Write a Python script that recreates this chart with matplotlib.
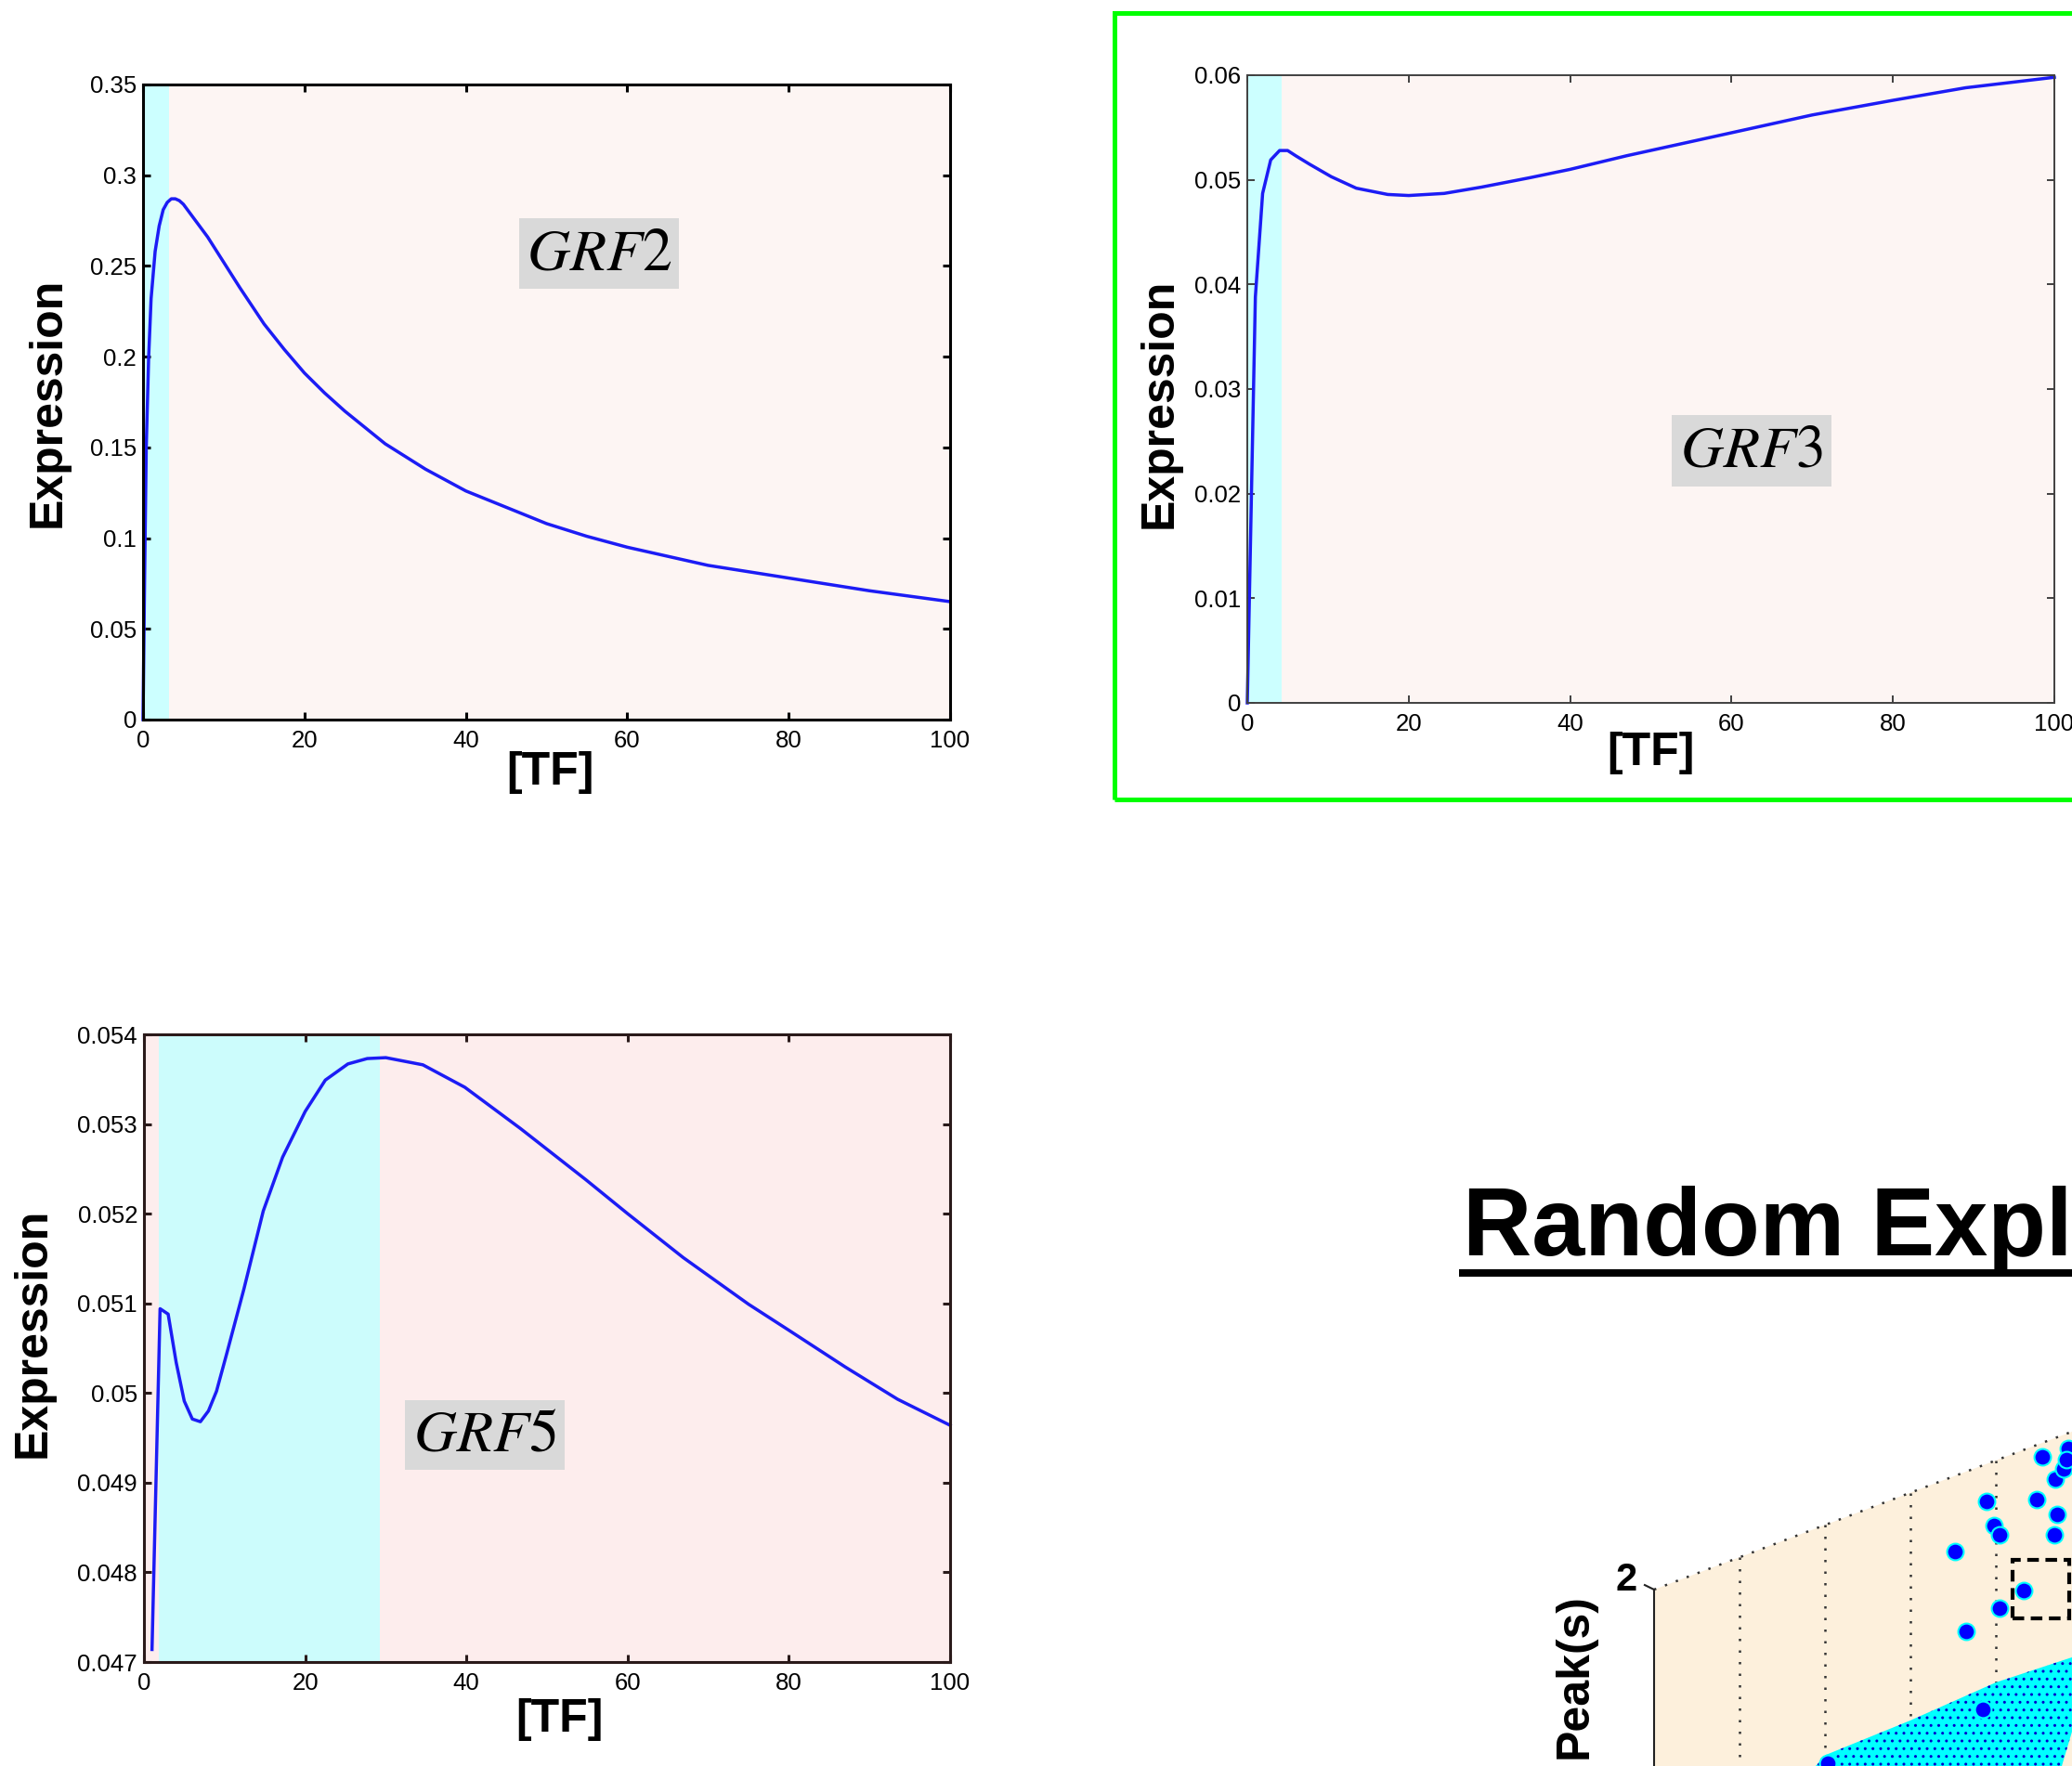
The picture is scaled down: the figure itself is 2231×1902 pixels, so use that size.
import numpy as np
import matplotlib
matplotlib.use("Agg")
import matplotlib.pyplot as plt
import matplotlib.transforms as mtransforms
from matplotlib.patches import Rectangle, Polygon
from matplotlib.lines import Line2D
from matplotlib.ticker import FuncFormatter

plt.rcParams['font.family'] = ['Liberation Sans', 'DejaVu Sans']
plt.rcParams['mathtext.fontset'] = 'stix'
plt.rcParams['hatch.linewidth'] = 1.0

W, H, DPI = 2231, 1902, 100

# ---- response curves ----
grf2_tf = [0, 0.2, 0.4, 0.7, 1.0, 1.5, 2.0, 2.5, 3.0, 3.5, 4.0, 4.5, 5, 6, 7,
           8, 9, 10, 11, 12, 13.5, 15, 17.5, 20, 22.5, 25, 27.5, 30, 35, 40,
           45, 50, 55, 60, 65, 70, 75, 80, 85, 90, 95, 100]
grf2_expr = [0, 0.08, 0.15, 0.20, 0.232, 0.258, 0.272, 0.281, 0.285, 0.287,
             0.287, 0.286, 0.284, 0.278, 0.272, 0.266, 0.259, 0.252, 0.245,
             0.238, 0.228, 0.218, 0.204, 0.191, 0.180, 0.170, 0.161, 0.152,
             0.138, 0.126, 0.117, 0.108, 0.101, 0.095, 0.090, 0.085, 0.0815,
             0.078, 0.0745, 0.071, 0.068, 0.065]
grf2_bounds = [0, 3.2, 100]

grf3_tf = [0, 1.0, 1.9, 2.9, 4.0, 5.0, 6.0, 7.7, 10.4, 13.5, 17.4, 20, 24.4, 29,
           35, 40, 47, 60, 70, 80, 89, 100]
grf3_expr = [0, 0.0388, 0.0487, 0.0519, 0.0528, 0.0528, 0.0523, 0.0515, 0.0503,
             0.0492, 0.0486, 0.0485, 0.0487, 0.0493, 0.0502, 0.0510, 0.0523,
             0.0545, 0.0562, 0.0576, 0.0588, 0.0598]
grf3_bounds = [0, 4.3, 100]

grf5_tf = [1, 2, 3, 4, 5, 6, 7, 8, 9, 10.3, 12.4, 14.8, 17.2, 20, 22.5, 25.3,
           27.7, 30, 34.6, 39.8, 46.7, 54.8, 60, 66.9, 75, 80, 87, 93.5, 100]
grf5_expr = [0.04714, 0.05094, 0.05088, 0.05034, 0.04991, 0.04971, 0.04968,
             0.0498, 0.05002, 0.05045, 0.05116, 0.05203, 0.05263, 0.05314,
             0.05349, 0.05367, 0.05373, 0.05374, 0.05366, 0.05341, 0.05295,
             0.05238, 0.0520, 0.05151, 0.05099, 0.0507, 0.05029, 0.04993,
             0.04964]
grf5_bounds = [0, 1.85, 29.3, 100]

# ---- random exploration panel (back wall: u along floor, z = peaks) ----
peak_u = [4.543, 3.891, 4.478, 4.717, 3.978, 4.043, 4.685, 3.522, 4.326, 4.043,
          4.696, 4.793, 4.848, 4.826, 3.652, 3.848, 2.033]
peak_z = [1.939, 1.836, 1.760, 1.661, 1.717, 1.667, 1.576, 1.667, 1.382, 1.344,
          1.819, 1.850, 1.932, 1.887, 1.298, 0.927, 0.948]
grid_u = [1, 2, 3, 4]
cloud_u = [0.7, 1.891, 2.011, 3.0, 4.0, 4.891, 4.891, 4.772, 4.6, 0.7]
cloud_z = [0.93, 0.956, 0.988, 0.999, 1.024, 1.008, 0.681, 0.547, 0.3, 0.3]
z_top = 2

CYAN = '#ccffff'
PINK = '#fdf5f3'
PINK2 = '#fdeded'
LINE = '#1c1cf5'


def px_axes(fig, left, top, right, bottom):
    return fig.add_axes([left / W, 1 - bottom / H, (right - left) / W,
                         (bottom - top) / H])


def gfmt(v, pos):
    return '%g' % round(v, 6)


def response_panel(ax, tf, expr, bounds, colors, ylim, ystep, name, box,
                   xlab_pos, ylab_pos, spine_w, spine_c):
    for x0, x1, c in zip(bounds[:-1], bounds[1:], colors):
        ax.axvspan(x0, x1, color=c, zorder=0, lw=0)
    ax.plot(tf, expr, color=LINE, lw=2.5, zorder=2, clip_on=False,
            solid_joinstyle='round')
    ax.set_xlim(0, 100)
    ax.set_ylim(*ylim)
    ax.set_xticks(np.arange(0, 101, 20))
    ax.set_yticks(np.arange(ylim[0], ylim[1] + ystep / 2, ystep))
    ax.yaxis.set_major_formatter(FuncFormatter(gfmt))
    ax.tick_params(direction='in', length=6, width=spine_w, top=True,
                   right=True, labelsize=18.5, color=spine_c)
    ax.tick_params(axis='x', pad=8)
    ax.tick_params(axis='y', pad=5)
    for s in ax.spines.values():
        s.set_linewidth(spine_w)
        s.set_color(spine_c)
        s.set_zorder(5)
    x0, x1, y0, y1 = box
    ax.add_patch(Rectangle((x0, y0), x1 - x0, y1 - y0, transform=ax.transAxes,
                           facecolor='#d9d9d9', edgecolor='none', zorder=3))
    ax.text((x0 + x1) / 2, (y0 + y1) / 2, name, transform=ax.transAxes,
            fontsize=46, ha='center', va='center', zorder=4)
    ax.text(xlab_pos[0], xlab_pos[1], '[TF]', transform=ax.transAxes,
            fontsize=36, fontweight='bold', ha='center', va='center')
    ax.text(ylab_pos[0], ylab_pos[1], 'Expression', transform=ax.transAxes,
            fontsize=36, fontweight='bold', ha='center', va='center',
            rotation=90)


fig = plt.figure(figsize=(W / DPI, H / DPI), dpi=DPI)

ax1 = px_axes(fig, 154, 91, 1023, 775)
response_panel(ax1, grf2_tf, grf2_expr, grf2_bounds, [CYAN, PINK],
               (0, 0.35), 0.05, r'$GRF2$', (0.4664, 0.6645, 0.6778, 0.790),
               (0.504, -0.083), (-0.118, 0.5), 2.2, 'black')

ax2 = px_axes(fig, 1343, 81, 2212, 757)
response_panel(ax2, grf3_tf, grf3_expr, grf3_bounds, [CYAN, PINK],
               (0, 0.06), 0.01, r'$GRF3$', (0.5254, 0.7234, 0.3453, 0.4589),
               (0.4994, -0.080), (-0.109, 0.478), 1.4, '#404040')

ax3 = px_axes(fig, 155, 1114, 1023, 1790)
response_panel(ax3, grf5_tf, grf5_expr, grf5_bounds, [PINK2, '#ccfcfc', PINK2],
               (0.047, 0.054), 0.001, r'$GRF5$', (0.324, 0.522, 0.306, 0.4177),
               (0.516, -0.092), (-0.1376, 0.524), 2.2, '#2a1a1a')

# green highlight frame around the GRF3 panel
fig.add_artist(Rectangle((1200 / W, 1 - 861 / H), 1200 / W, (861 - 14) / H,
                         transform=fig.transFigure, fill=False,
                         edgecolor='#00ff00', lw=3.6))

# title of the exploration panel (cropped at the right edge in the original)
fig.text(1575 / W, 1 - 1352 / H, 'Random Expl', fontsize=74,
         fontweight='bold', ha='left', va='baseline')
fig.add_artist(Line2D([1571 / W, 1.0], [1 - 1371 / H, 1 - 1371 / H],
                      transform=fig.transFigure, color='black', lw=5.8,
                      solid_capstyle='butt'))

# pseudo-3D back wall
axp = fig.add_axes([1761 / W, 0, 470 / W, 402 / H])
axp.set_xlim(-0.2174, 4.8913)
axp.set_ylim(1.2245, 2.8653)
axp.axis('off')
shear = mtransforms.Affine2D(np.array([[1, 0, 0], [0.14195, 1, 0], [0, 0, 1]]))
wall = shear + axp.transData

axp.add_patch(Polygon([(0, -1), (0, z_top), (6, z_top), (6, -1)],
                      closed=True, transform=wall, facecolor='#fdf0dc',
                      edgecolor='none', zorder=1))
for u in grid_u:
    axp.plot([u, u], [z_top, -1], transform=wall, color='#333333', lw=1.8,
             ls=(0, (1, 4)), zorder=2)
axp.plot([0, 6], [z_top, z_top], transform=wall, color='#333333', lw=1.8,
         ls=(0, (1, 4)), zorder=2)
cloud = list(zip(cloud_u, cloud_z))
axp.add_patch(Polygon(cloud, closed=True, transform=wall, facecolor='#00ffff',
                      edgecolor='none', zorder=3))
axp.add_patch(Polygon(cloud, closed=True, transform=wall, facecolor='none',
                      edgecolor='#0000cc', lw=0, hatch='..', zorder=4))
axp.scatter(peak_u, peak_z, transform=wall, s=165, facecolor='#0000ff',
            edgecolor='#00ffff', linewidths=1.5, zorder=5)
axp.add_patch(Rectangle((4.196, 1.873), 0.663, 0.258, fill=False,
                        edgecolor='black', lw=3, ls=(0, (3, 1.7)), zorder=6))
axp.plot([0, 0], [z_top, -1], transform=wall, color='#222222', lw=1.5,
         zorder=6)
axp.plot([0, -0.109], [z_top, z_top + 0.02], color='#222222', lw=1.5,
         zorder=6, clip_on=False)
axp.text(-0.2, z_top + 0.041, '2', fontsize=30, fontweight='bold',
         ha='right', va='center', clip_on=False)

fig.text(1696 / W, 1 - 1716 / H, 'Peak(s)', rotation=90, fontsize=36,
         fontweight='bold', ha='center', va='top')

fig.savefig('out.png', dpi=DPI)
